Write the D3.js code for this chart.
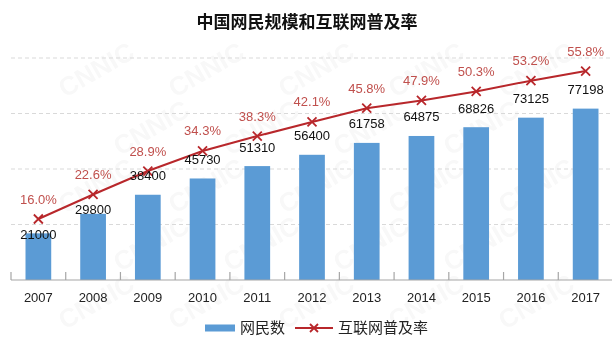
<!DOCTYPE html>
<html>
<head>
<meta charset="utf-8">
<script src="https://cdn.jsdelivr.net/npm/d3@7/dist/d3.min.js"></script>
<style>
  html, body { margin: 0; padding: 0; background: #fff; }
  svg { display: block; }
</style>
</head>
<body>
<svg id="chart" width="612" height="337"></svg>
<script>
// Netizen scale (10k people) and internet penetration, 2007-2017
const years = ["2007", "2008", "2009", "2010", "2011", "2012", "2013", "2014", "2015", "2016", "2017"];
const netizens = [21000, 29800, 38400, 45730, 51310, 56400, 61758, 64875, 68826, 73125, 77198];
const penetration = [16.0, 22.6, 28.9, 34.3, 38.3, 42.1, 45.8, 47.9, 50.3, 53.2, 55.8];
const gridValues = [25000, 50000, 75000, 100000];
const titleText = "中国网民规模和互联网普及率";
const legendLabels = ["网民数", "互联网普及率"];

const W = 612, H = 337;
const svg = d3.select("#chart");
const latin = "'Liberation Sans', Arial, sans-serif";
const cjk = "'Noto Sans CJK SC', 'Noto Sans', sans-serif";
const barColor = "#5b9bd5";
const lineColor = "#b8272b";
const pctColor = "#c0504d";

// faint background watermark, only copies that fit fully on the canvas
const wm = svg.append("g").attr("fill", "#000").attr("opacity", 0.03)
  .attr("font-family", latin).attr("font-size", 26).attr("font-weight", "bold");
for (let r = 0; r < 7; r++) {
  for (let c = 0; c < 7; c++) {
    const px = c * 110 + (r % 2) * 55 + 10;
    const py = r * 58 + 40;
    const t = wm.append("text").attr("x", px).attr("y", py)
      .attr("transform", `rotate(-30,${px},${py})`).text("CNNIC");
    const b = t.node().getBoundingClientRect();
    if (b.left < 1 || b.top < 1 || b.right > W - 1 || b.bottom > H - 1) t.remove();
  }
}

const x = d3.scaleBand().domain(years).range([11, 613]).paddingInner(0.53).paddingOuter(0.265);
const yBar = d3.scaleLinear().domain([0, 100000]).range([280, 58]);
const yPct = d3.scaleLinear().domain([0, 60]).range([278.5, 55.4]);

// title
svg.append("text").attr("x", 307).attr("y", 28).attr("text-anchor", "middle")
  .attr("font-family", cjk).attr("font-weight", "bold").attr("font-size", 17)
  .attr("fill", "#111").text(titleText);

// dashed gridlines
svg.append("g").selectAll("line").data(gridValues).join("line")
  .attr("x1", 11).attr("x2", 612)
  .attr("y1", d => yBar(d)).attr("y2", d => yBar(d))
  .attr("stroke", "#d9d9d9").attr("stroke-width", 1).attr("stroke-dasharray", "4,3");

// bars
svg.append("g").selectAll("rect").data(netizens).join("rect")
  .attr("x", (d, i) => x(years[i]))
  .attr("y", d => yBar(d))
  .attr("width", x.bandwidth())
  .attr("height", d => yBar(0) - yBar(d))
  .attr("fill", barColor);

// category axis with upward tick marks at band boundaries
const axisG = svg.append("g");
axisG.append("line").attr("x1", 11).attr("x2", 612)
  .attr("y1", 280).attr("y2", 280).attr("stroke", "#a6a6a6").attr("stroke-width", 1.2);
const step = x.step();
const firstEdge = x(years[0]) - (x.paddingInner() * step) / 2;
const bounds = d3.range(years.length + 1).map(i => firstEdge + i * step);
axisG.selectAll("line.tick").data(bounds).join("line").attr("class", "tick")
  .attr("x1", d => d).attr("x2", d => d).attr("y1", 272).attr("y2", 280)
  .attr("stroke", "#a6a6a6").attr("stroke-width", 1.2);
axisG.selectAll("text").data(years).join("text")
  .attr("x", d => x(d) + x.bandwidth() / 2).attr("y", 301.5)
  .attr("text-anchor", "middle").attr("font-family", latin).attr("font-size", 13)
  .attr("fill", "#222").text(d => d);

// penetration line
const cx = i => x(years[i]) + x.bandwidth() / 2;
const line = d3.line().x((d, i) => cx(i)).y(d => yPct(d));
svg.append("path").datum(penetration).attr("d", line)
  .attr("fill", "none").attr("stroke", lineColor).attr("stroke-width", 2);

const cross = (g, px, py, s) => {
  g.append("path")
    .attr("d", `M${px - s},${py - s}L${px + s},${py + s}M${px - s},${py + s}L${px + s},${py - s}`)
    .attr("stroke", lineColor).attr("stroke-width", 1.8).attr("fill", "none");
};
const markers = svg.append("g");
penetration.forEach((p, i) => cross(markers, cx(i), yPct(p), 4.5));

// penetration labels
svg.append("g").selectAll("text").data(penetration).join("text")
  .attr("x", (d, i) => cx(i)).attr("y", d => yPct(d) - 15.5)
  .attr("text-anchor", "middle").attr("font-family", latin).attr("font-size", 13)
  .attr("fill", pctColor).text(d => d.toFixed(1) + "%");

// netizen value labels; pushed below the marker when the line sits at the label
svg.append("g").selectAll("text").data(netizens).join("text")
  .attr("x", (d, i) => cx(i))
  .attr("y", (d, i) => {
    const def = yBar(d) - 19;
    const my = yPct(penetration[i]);
    const c = my >= def - 1 ? my + 15 : def;
    return c + 4.5;
  })
  .attr("text-anchor", "middle").attr("font-family", latin).attr("font-size", 13)
  .attr("fill", "#111").text(d => d);

// legend
const lg = svg.append("g");
lg.append("rect").attr("x", 205).attr("y", 324.5).attr("width", 30).attr("height", 7).attr("fill", barColor);
lg.append("text").attr("x", 240).attr("y", 333).attr("font-family", cjk).attr("font-size", 15)
  .attr("fill", "#222").text(legendLabels[0]);
lg.append("line").attr("x1", 295).attr("x2", 333).attr("y1", 328).attr("y2", 328)
  .attr("stroke", lineColor).attr("stroke-width", 2);
cross(lg, 314, 328, 4);
lg.append("text").attr("x", 338).attr("y", 333).attr("font-family", cjk).attr("font-size", 15)
  .attr("fill", "#222").text(legendLabels[1]);
</script>
</body>
</html>
